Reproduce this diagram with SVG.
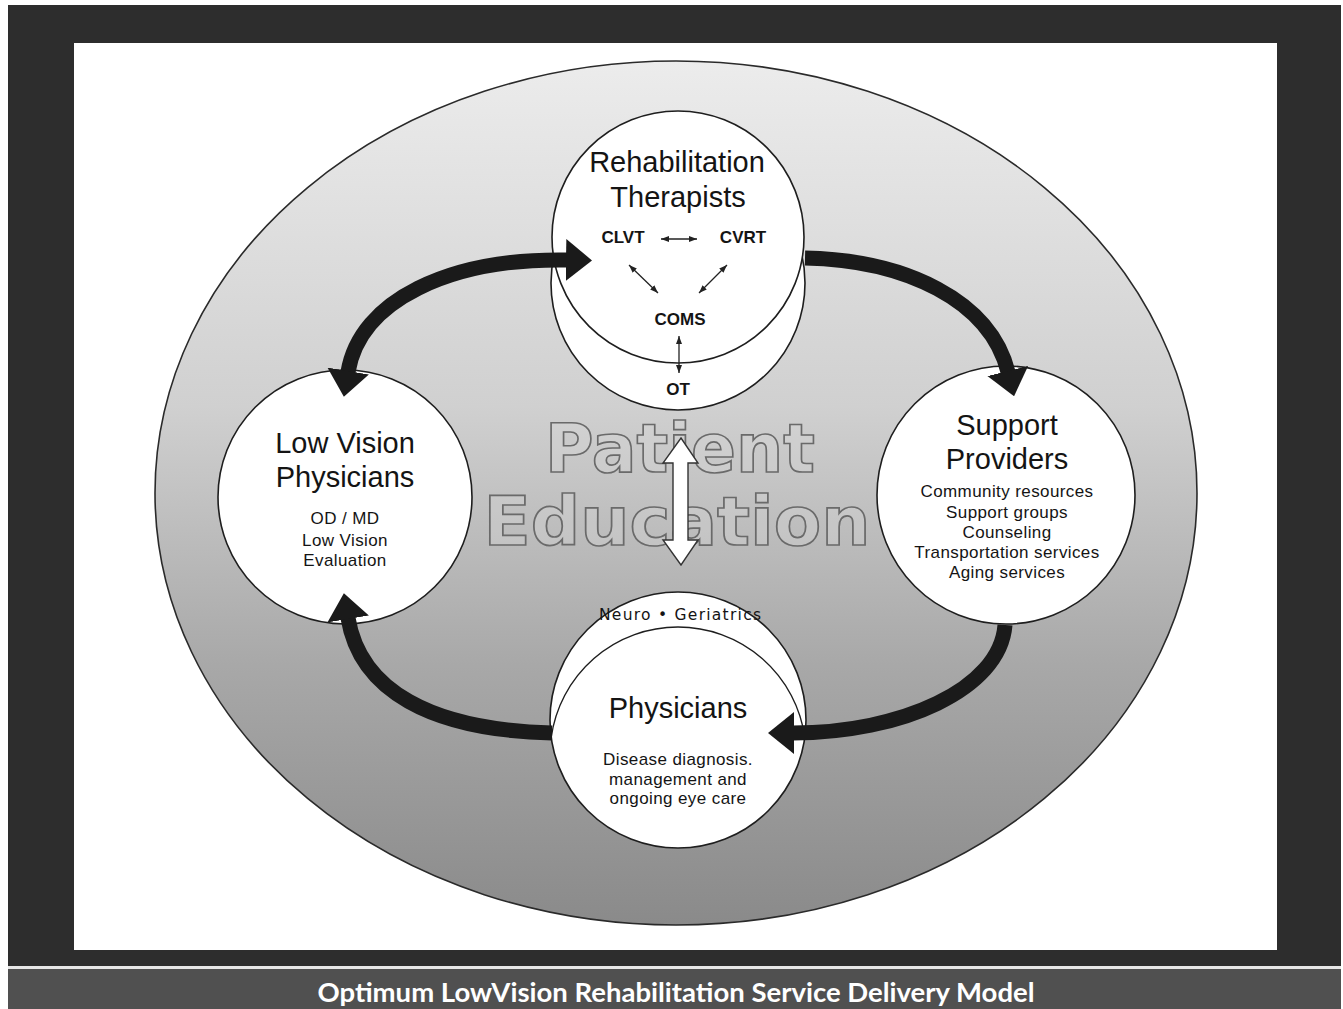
<svg xmlns="http://www.w3.org/2000/svg" width="1343" height="1009" viewBox="0 0 1343 1009">
<defs>
<style>
.t{font-family:"Liberation Sans",Arial,sans-serif;fill:#141414;text-anchor:middle}
.ttl{font-size:29px}
.sub{font-size:17px;letter-spacing:0.4px}
.bld{font-size:17px;font-weight:bold}
.node{fill:#fff;stroke:#1e1e1e;stroke-width:1.6}
.conn{fill:none;stroke:#1a1a1a;stroke-width:15}
.thin{stroke:#222;stroke-width:1.3;fill:none}
.pe{font-family:"DejaVu Sans","Liberation Sans",sans-serif;font-weight:bold;font-size:68px;fill:#dcdcdc;fill-opacity:0.3;stroke:#6a6a6a;stroke-width:1.7;text-anchor:middle}
</style>
<linearGradient id="ellGrad" x1="0" y1="0" x2="0" y2="1">
<stop offset="0" stop-color="#ececec"/>
<stop offset="0.4" stop-color="#d0d0d0"/>
<stop offset="0.7" stop-color="#a8a8a8"/>
<stop offset="1" stop-color="#8a8a8a"/>
</linearGradient>
<marker id="big" viewBox="0 0 26 42" refX="1" refY="21" markerWidth="26" markerHeight="42" markerUnits="userSpaceOnUse" orient="auto-start-reverse">
<path d="M0,0 L26,21 L0,42 z" fill="#1a1a1a"/>
</marker>
<marker id="sm" viewBox="0 0 8 6" refX="8" refY="3" markerWidth="8" markerHeight="6" markerUnits="userSpaceOnUse" orient="auto-start-reverse">
<path d="M0,0 L8,3 L0,6 z" fill="#222"/>
</marker>
</defs>

<g id="frame">
<rect x="8" y="5" width="1333" height="1004" fill="#2d2d2d"/>
<rect x="8" y="969" width="1333" height="40" fill="#505050"/>
<rect x="8" y="966" width="1333" height="3" fill="#e6e6e6"/>
<rect x="74" y="43" width="1203" height="907" fill="#ffffff"/>
</g>

<g id="background-ellipse">
<ellipse cx="676" cy="493" rx="521" ry="432" fill="url(#ellGrad)" stroke="#2a2a2a" stroke-width="1.6"/>
</g>

<g id="patient-education">
<text class="pe" x="680" y="472" textLength="270" lengthAdjust="spacingAndGlyphs">Patient</text>
<text class="pe" x="677" y="545" textLength="387" lengthAdjust="spacingAndGlyphs">Education</text>
<polygon points="681,438 698,463 688,463 688,540 698,540 681,565 663,540 673,540 673,463 663,463" fill="#fff" stroke="#333" stroke-width="1.4"/>
</g>

<g id="node-rehab">
<circle class="node" cx="678" cy="283" r="127"/>
<circle class="node" cx="678" cy="237" r="126"/>
<text class="t ttl" x="677" y="172">Rehabilitation</text>
<text class="t ttl" x="678" y="207">Therapists</text>
<text class="t bld" x="623" y="243">CLVT</text>
<text class="t bld" x="743" y="243">CVRT</text>
<text class="t bld" x="680" y="325">COMS</text>
<text class="t bld" x="678" y="395">OT</text>
<line class="thin" x1="661" y1="239" x2="697" y2="239" marker-start="url(#sm)" marker-end="url(#sm)"/>
<line class="thin" x1="629" y1="265" x2="658" y2="293" marker-start="url(#sm)" marker-end="url(#sm)"/>
<line class="thin" x1="727" y1="265" x2="699" y2="293" marker-start="url(#sm)" marker-end="url(#sm)"/>
<line class="thin" x1="679" y1="336" x2="679" y2="373" marker-start="url(#sm)" marker-end="url(#sm)"/>
</g>

<g id="node-lowvision">
<circle class="node" cx="345" cy="497" r="127"/>
<text class="t ttl" x="345" y="453">Low Vision</text>
<text class="t ttl" x="345" y="487">Physicians</text>
<text class="t sub" x="345" y="524">OD / MD</text>
<text class="t sub" x="345" y="546">Low Vision</text>
<text class="t sub" x="345" y="566">Evaluation</text>
</g>

<g id="node-support">
<circle class="node" cx="1006" cy="495" r="129"/>
<text class="t ttl" x="1007" y="435">Support</text>
<text class="t ttl" x="1007" y="469">Providers</text>
<text class="t sub" x="1007" y="497">Community resources</text>
<text class="t sub" x="1007" y="518">Support groups</text>
<text class="t sub" x="1007" y="538">Counseling</text>
<text class="t sub" x="1007" y="558">Transportation services</text>
<text class="t sub" x="1007" y="578">Aging services</text>
</g>

<g id="node-physicians">
<circle class="node" cx="678" cy="720" r="128"/>
<path d="M551.2,737.5 A128,128 0 0 1 804.8,737.5" fill="none" stroke="#1e1e1e" stroke-width="1.4"/>
<text x="680" y="620" textLength="162" style="font-family:'DejaVu Sans','Liberation Sans',sans-serif;font-size:15.5px;fill:#141414;text-anchor:middle">Neuro • Geriatrics</text>
<text class="t ttl" x="678" y="718">Physicians</text>
<text class="t sub" x="678" y="765">Disease diagnosis.</text>
<text class="t sub" x="678" y="785">management and</text>
<text class="t sub" x="678" y="804">ongoing eye care</text>
</g>

<g id="connectors">
<path class="conn" d="M567,260 C450,258 360,300 348,372" marker-start="url(#big)" marker-end="url(#big)"/>
<path class="conn" d="M805,258 C905,260 990,300 1008,372" marker-end="url(#big)"/>
<path class="conn" d="M1005,625 C1000,690 900,733 793,733" marker-end="url(#big)"/>
<path class="conn" d="M552,733 C430,730 360,690 348,618" marker-end="url(#big)"/>
</g>

<g id="caption">
<text x="676" y="1002" textLength="717" lengthAdjust="spacingAndGlyphs" style="font-family:Lato,'Open Sans',sans-serif;font-weight:bold;font-size:27px;fill:#ffffff;text-anchor:middle">Optimum LowVision Rehabilitation Service Delivery Model</text>
</g>
</svg>
